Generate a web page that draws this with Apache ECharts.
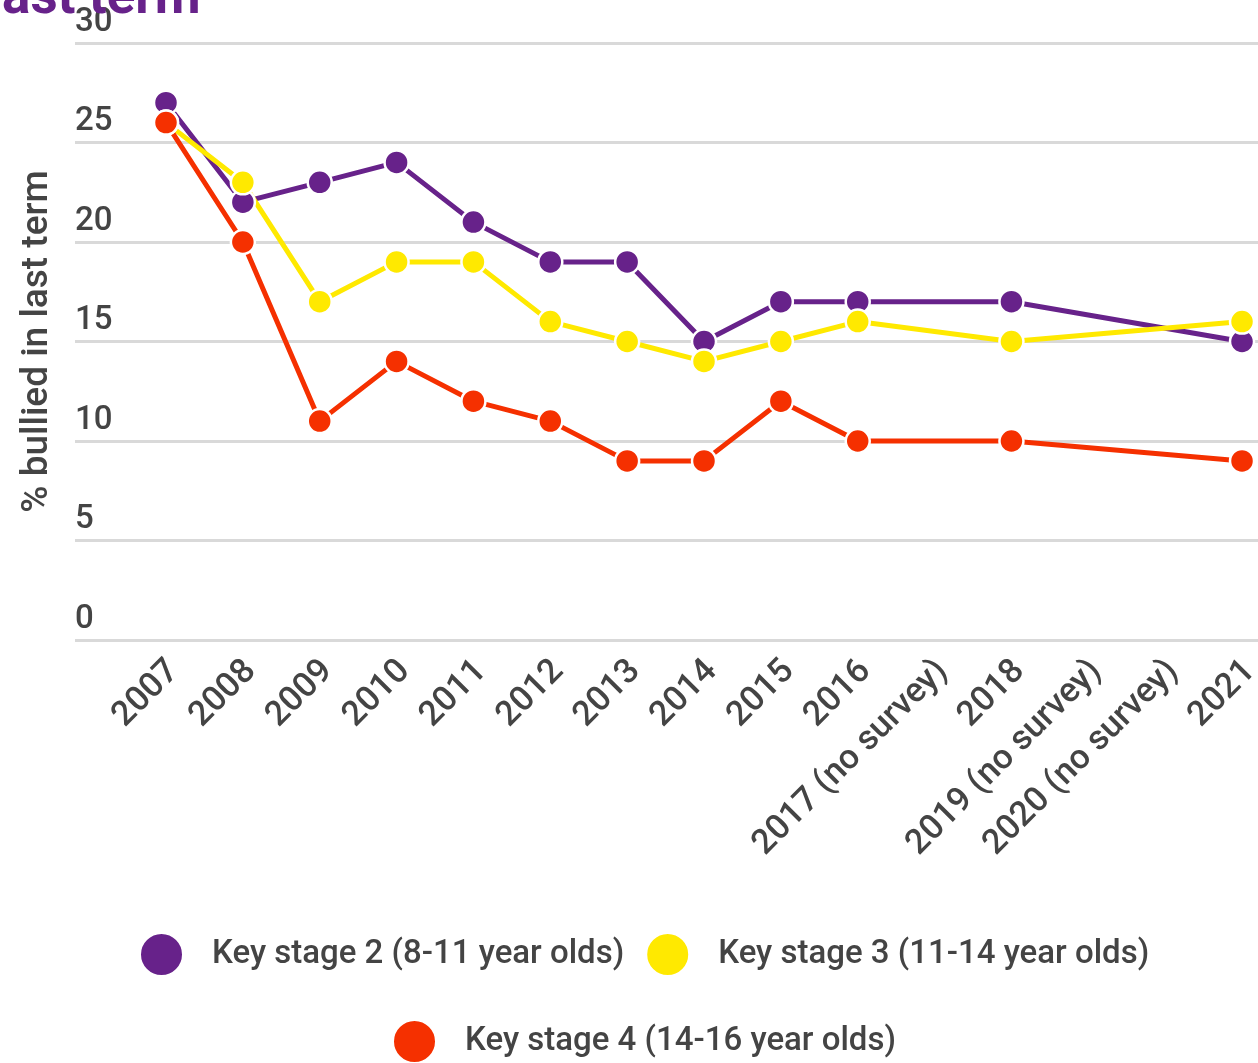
<!DOCTYPE html>
<html>
<head>
<meta charset="utf-8">
<style>
  html, body { margin: 0; padding: 0; background: #ffffff; }
  #chart { width: 1258px; height: 1063px; }
</style>
<script src="https://cdn.jsdelivr.net/npm/echarts@6/dist/echarts.min.js"></script>
</head>
<body>
<div id="chart"></div>
<script>
// Survey years (categories along the x axis)
const years = ['2007', '2008', '2009', '2010', '2011', '2012', '2013', '2014', '2015', '2016',
  '2017 (no survey)', '2018', '2019 (no survey)', '2020 (no survey)', '2021'];

// % of pupils bullied in last term, by key stage (null = no survey that year)
const ks2 = [27, 22, 23, 24, 21, 19, 19, 15, 17, 17, null, 17, null, null, 15];
const ks3 = [26, 23, 17, 19, 19, 16, 15, 14, 15, 16, null, 15, null, null, 16];
const ks4 = [26, 20, 11, 14, 12, 11, 9, 9, 12, 10, null, 10, null, null, 9];

const yTicks = [0, 5, 10, 15, 20, 25, 30];

const seriesNames = ['Key stage 2 (8-11 year olds)', 'Key stage 3 (11-14 year olds)', 'Key stage 4 (14-16 year olds)'];
const seriesColors = ['#67228a', '#ffe900', '#f53000'];

const FONT = 'Roboto';
const TEXT = '#444444';

function pairs(values) {
  const out = [];
  values.forEach(function (v, i) { if (v !== null) out.push([i, v]); });
  return out;
}

function lineSeries(name, values, color) {
  return {
    name: name,
    type: 'line',
    data: pairs(values),
    connectNulls: true,
    symbol: 'circle',
    symbolSize: 24,
    lineStyle: { color: color, width: 5 },
    itemStyle: { color: color, borderColor: '#ffffff', borderWidth: 2.5 },
    emphasis: { disabled: true },
    animation: false
  };
}

const legendText = { fontFamily: FONT, fontSize: 33, fontWeight: 500, color: TEXT, padding: [0, 0, 0, 24] };

const chart = echarts.init(document.getElementById('chart'), null, { renderer: 'canvas' });

chart.setOption({
  backgroundColor: '#ffffff',
  animation: false,
  graphic: [{
    type: 'text',
    left: -12,
    top: -27,
    style: {
      text: 'last term',
      font: 'bold 53px ' + FONT,
      fill: '#67228a'
    },
    z: 10
  }],
  grid: { left: 75, right: 0, top: 43, bottom: 423, containLabel: false, outerBoundsMode: 'none' },
  legend: [{
    data: [seriesNames[0], seriesNames[1]],
    left: 139,
    top: 932,
    padding: 0,
    icon: 'circle',
    itemWidth: 43,
    itemHeight: 43,
    itemGap: 21,
    selectedMode: false,
    textStyle: legendText
  }, {
    data: [seriesNames[2]],
    left: 392,
    top: 1019,
    padding: 0,
    icon: 'circle',
    itemWidth: 43,
    itemHeight: 43,
    selectedMode: false,
    textStyle: legendText
  }],
  xAxis: {
    type: 'value',
    min: -1.184,
    max: 14.208,
    axisLine: { show: false },
    axisTick: { show: false },
    splitLine: { show: false },
    axisLabel: {
      customValues: years.map(function (y, i) { return i; }),
      formatter: function (v) { return years[Math.round(v)]; },
      rotate: 45,
      margin: 18,
      verticalAlign: 'top',
      lineHeight: 23,
      fontFamily: FONT,
      fontSize: 34.5,
      fontWeight: 500,
      color: TEXT
    }
  },
  yAxis: {
    type: 'value',
    min: 0,
    max: 30,
    interval: 5,
    name: '% bullied in last term',
    nameLocation: 'middle',
    nameRotate: 90,
    nameGap: 19,
    nameTextStyle: { fontFamily: FONT, fontSize: 37, fontWeight: 500, color: TEXT },
    axisLine: { show: false },
    axisTick: { show: false },
    splitLine: { show: true, lineStyle: { color: '#d9d9d9', width: 3 } },
    axisLabel: {
      inside: true,
      margin: 0,
      align: 'left',
      verticalAlign: 'bottom',
      padding: [0, 0, 4, 0],
      fontFamily: FONT,
      fontSize: 33,
      fontWeight: 500,
      color: TEXT,
      customValues: yTicks,
      formatter: function (v) { return String(v); }
    }
  },
  series: [
    lineSeries(seriesNames[0], ks2, seriesColors[0]),
    lineSeries(seriesNames[1], ks3, seriesColors[1]),
    lineSeries(seriesNames[2], ks4, seriesColors[2])
  ]
});
</script>
</body>
</html>
